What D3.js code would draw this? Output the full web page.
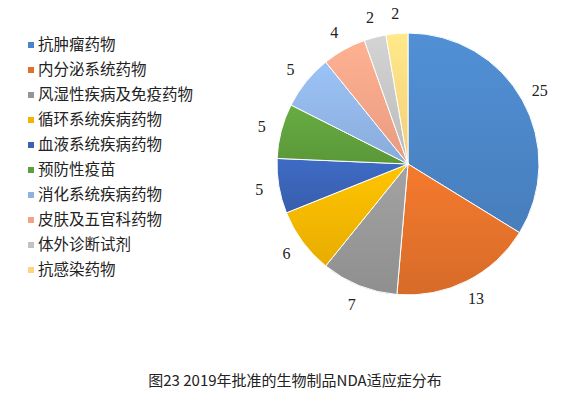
<!DOCTYPE html>
<html>
<head>
<meta charset="utf-8">
<script src="https://cdn.jsdelivr.net/npm/d3@7"></script>
<style>
  body { margin: 0; background: #fff; }
</style>
</head>
<body>
<svg id="chart"></svg>
<script>
const categories = ["抗肿瘤药物", "内分泌系统药物", "风湿性疾病及免疫药物", "循环系统疾病药物", "血液系统疾病药物",
  "预防性疫苗", "消化系统疾病药物", "皮肤及五官科药物", "体外诊断试剂", "抗感染药物"];
const values = [25, 13, 7, 6, 5, 5, 5, 4, 2, 2];
const colors = ["#4a84c4", "#e0702a", "#959595", "#f2b400", "#3a62b4", "#5e9e3c", "#8fb2e2", "#f2a286", "#c2c2c2", "#fed57e"];
const title = "图23 2019年批准的生物制品NDA适应症分布";

const width = 575, height = 396;
const cx = 408, cy = 164, outerRadius = 131, labelRadius = 151;

const svg = d3.select("#chart")
  .attr("width", width)
  .attr("height", height);

const color = d3.scaleOrdinal(categories, colors);

// vertical gradient per slice, lighter at the top
const defs = svg.append("defs");
categories.forEach((c, i) => {
  const base = d3.color(colors[i]);
  const g = defs.append("linearGradient")
    .attr("id", "grad" + i)
    .attr("x1", 0).attr("y1", 0).attr("x2", 0).attr("y2", 1);
  g.append("stop").attr("offset", "0%").attr("stop-color", base.brighter(0.25));
  g.append("stop").attr("offset", "100%").attr("stop-color", base.darker(0.12));
});

const arcs = d3.pie().sort(null).value(d => d)(values);
const arc = d3.arc().innerRadius(0).outerRadius(outerRadius);
const arcLabel = d3.arc().innerRadius(labelRadius).outerRadius(labelRadius);

const pieG = svg.append("g").attr("transform", `translate(${cx},${cy})`);

pieG.selectAll("path")
  .data(arcs)
  .join("path")
  .attr("d", arc)
  .attr("fill", (d, i) => `url(#grad${i})`)
  .attr("stroke", "#fff")
  .attr("stroke-width", 1);

pieG.selectAll("text")
  .data(arcs)
  .join("text")
  .attr("transform", d => `translate(${arcLabel.centroid(d)})`)
  .attr("text-anchor", "middle")
  .attr("dy", "0.35em")
  .attr("font-family", "'Liberation Serif', 'DejaVu Serif', serif")
  .attr("font-size", 16)
  .attr("fill", "#222")
  .text(d => d.data);

// legend
const legend = svg.append("g")
  .attr("font-family", "'Noto Sans CJK SC', sans-serif")
  .attr("font-size", 15.5)
  .selectAll("g")
  .data(categories)
  .join("g")
  .attr("transform", (d, i) => `translate(28,${45 + i * 25})`);

legend.append("rect")
  .attr("x", 0)
  .attr("y", -3)
  .attr("width", 6)
  .attr("height", 6)
  .attr("fill", d => color(d));

legend.append("text")
  .attr("x", 10)
  .attr("dy", "0.35em")
  .attr("fill", "#222")
  .text(d => d);

svg.append("text")
  .attr("x", 295)
  .attr("y", 381)
  .attr("dy", "0.35em")
  .attr("text-anchor", "middle")
  .attr("font-family", "'Noto Sans CJK SC', sans-serif")
  .attr("font-size", 15)
  .attr("fill", "#222")
  .text(title);
</script>
</body>
</html>
